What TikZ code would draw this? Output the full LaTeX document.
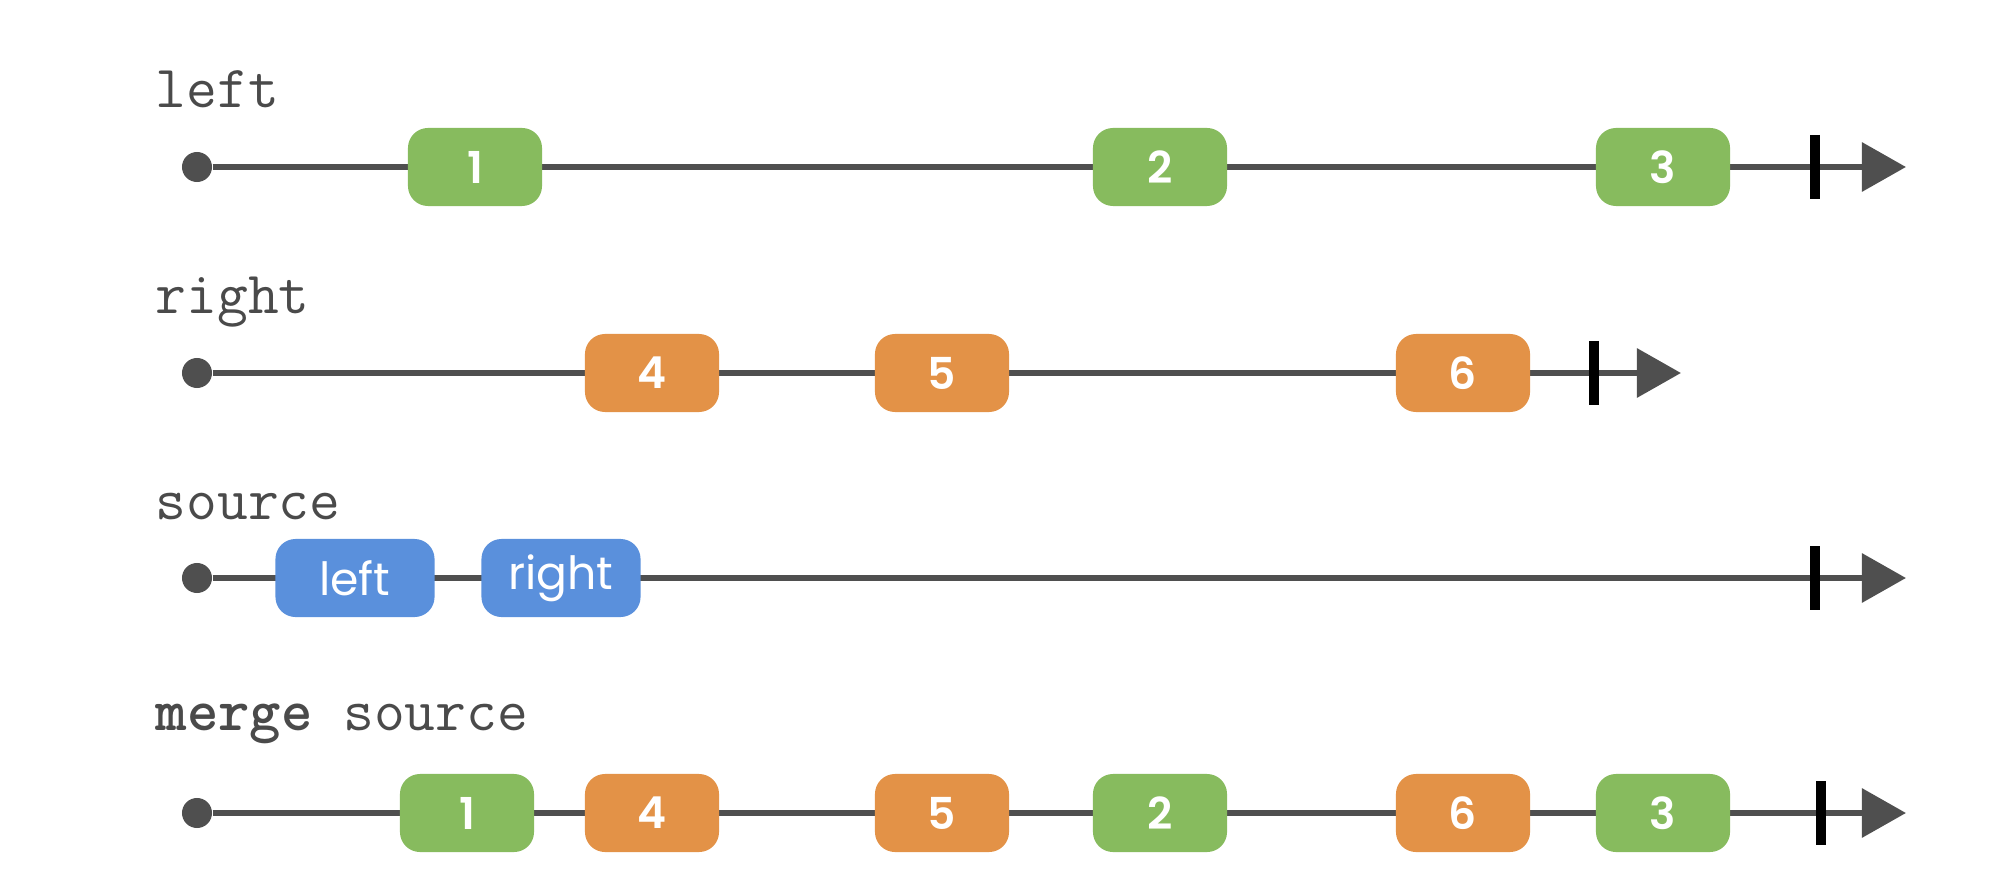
\documentclass[tikz,border=0pt]{standalone}
\usepackage{fontspec}
\newfontfamily\boxfont{Poppins}[BoldFont={Poppins SemiBold}]
\usepackage{tikz}
\usetikzlibrary{arrows.meta}
\definecolor{lineGray}{HTML}{4F4F4F}
\definecolor{labelGray}{HTML}{4A4A4A}
\definecolor{evGreen}{HTML}{87BB5E}
\definecolor{evOrange}{HTML}{E39247}
\definecolor{evBlue}{HTML}{5A90DC}
\tikzstyle{timeline} = [line width=1.8pt,draw=lineGray,-{Triangle[length=0.44cm,width=0.48cm]}]
\tikzstyle{start} = [circle,fill=lineGray,inner sep=0pt,minimum size=0.3cm]
\tikzstyle{stop} = [line width=2.6pt,draw=black]
\tikzstyle{caption} = [anchor=base west,inner sep=0pt,text=labelGray,font=\ttfamily\fontsize{17}{17}\selectfont]
\tikzstyle{event} = [rounded corners=0.2cm,minimum width=1.34cm,minimum height=0.78cm,inner sep=0pt,text=white,font=\boxfont\fontsize{12.5}{12.5}\selectfont\bfseries]
\tikzstyle{leftEv} = [event,fill=evGreen]
\tikzstyle{rightEv} = [event,fill=evOrange]
\tikzstyle{srcEv} = [event,fill=evBlue,minimum width=1.59cm,font=\boxfont\fontsize{13}{13}\selectfont]

\begin{document}
\begin{tikzpicture}[x=0.01cm,y=-0.01cm]
\useasboundingbox (0,0) rectangle (1996,882);
\def\tick{32}
% left
\node[caption] (capL) at (155,108) {left};
\node[start] (sL) at (197,167) {};
\coordinate (eL) at (1906,167);
\draw[timeline] (sL) -- (eL);
\draw[stop] (1815,167) ++(0,-\tick) -- ++(0,2*\tick);
\node[leftEv] (l1) at (475,167) {1};
\node[leftEv] (l2) at (1160,167) {2};
\node[leftEv] (l3) at (1663,167) {3};
% right
\node[caption] (capR) at (155,314) {right};
\node[start] (sR) at (197,373) {};
\coordinate (eR) at (1681,373);
\draw[timeline] (sR) -- (eR);
\draw[stop] (1594,373) ++(0,-\tick) -- ++(0,2*\tick);
\node[rightEv] (r4) at (652,373) {4};
\node[rightEv] (r5) at (942,373) {5};
\node[rightEv] (r6) at (1463,373) {6};
% source
\node[caption] (capS) at (155,519) {source};
\node[start] (sS) at (197,578) {};
\coordinate (eS) at (1906,578);
\draw[timeline] (sS) -- (eS);
\draw[stop] (1815,578) ++(0,-\tick) -- ++(0,2*\tick);
\node[srcEv] (sLeft) at (355,578) {left};
\node[srcEv] (sRight) at (561,578) {right};
% merge source
\node[caption] (capM) at (155,730) {\bfseries merge\mdseries{} source};
\node[start] (sM) at (197,813) {};
\coordinate (eM) at (1906,813);
\draw[timeline] (sM) -- (eM);
\draw[stop] (1821,813) ++(0,-\tick) -- ++(0,2*\tick);
\node[leftEv] (m1) at (467,813) {1};
\node[rightEv] (m4) at (652,813) {4};
\node[rightEv] (m5) at (942,813) {5};
\node[leftEv] (m2) at (1160,813) {2};
\node[rightEv] (m6) at (1463,813) {6};
\node[leftEv] (m3) at (1663,813) {3};
\end{tikzpicture}
\end{document}
